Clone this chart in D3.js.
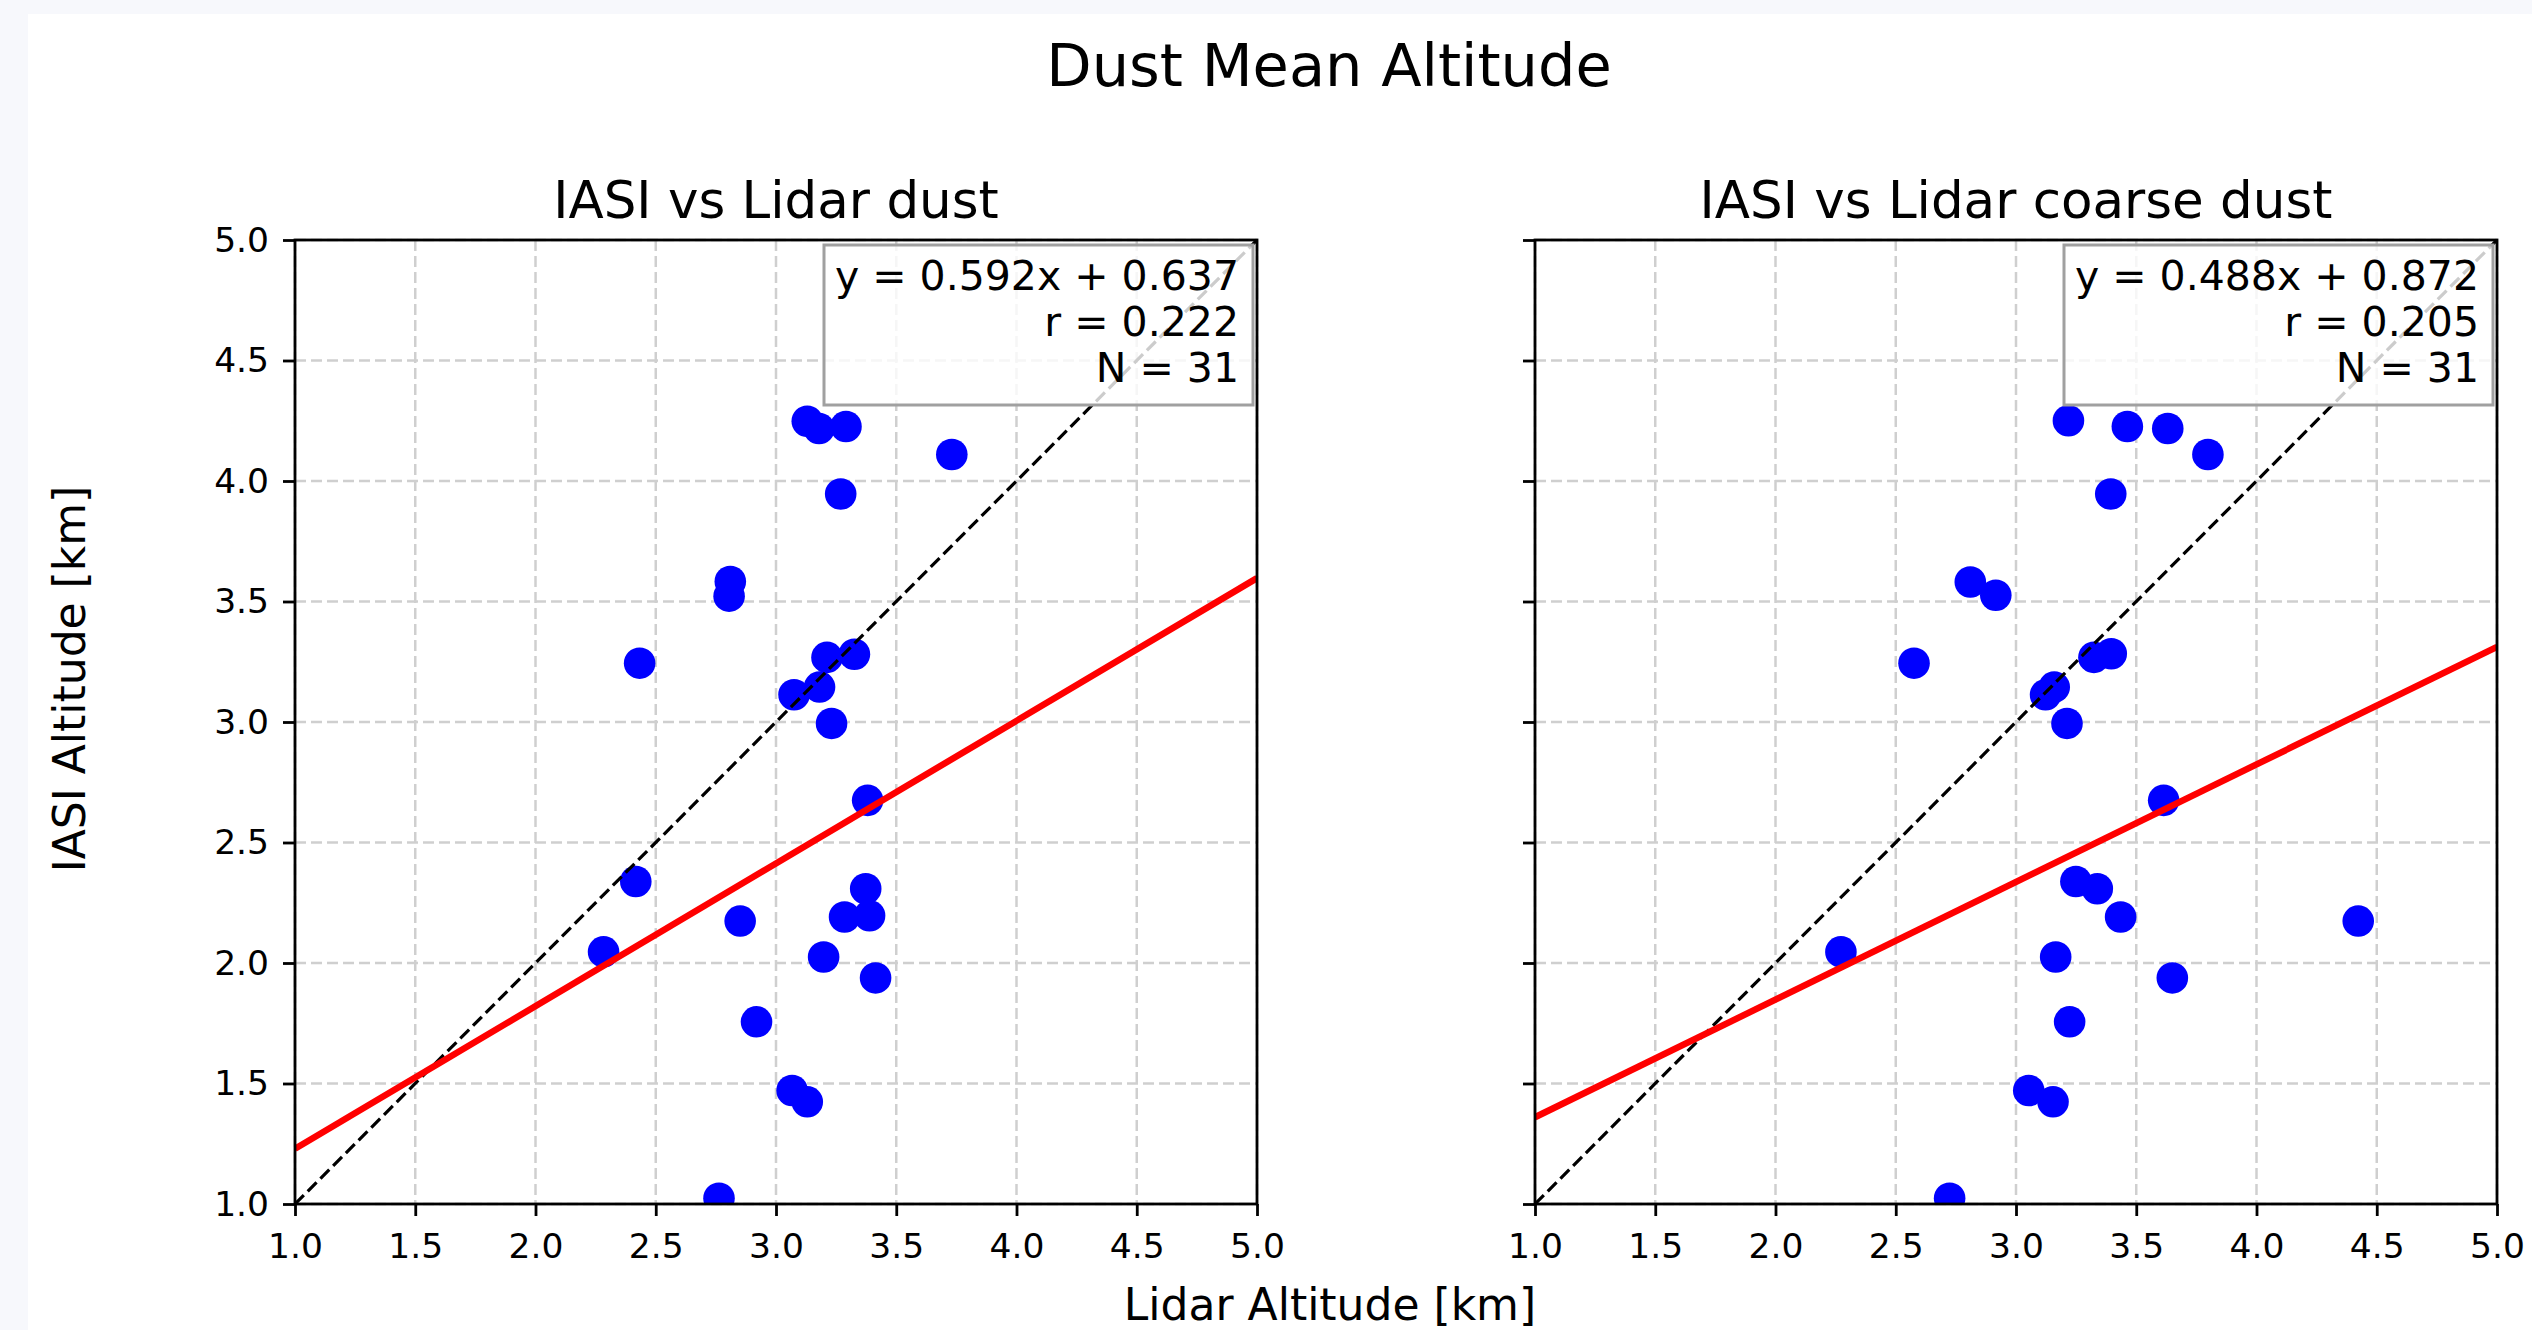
<!DOCTYPE html>
<html>
<head>
<meta charset="utf-8">
<script src="https://cdn.jsdelivr.net/npm/d3@7"></script>
<style>
  body { margin: 0; background: #f7f8fc; }
  text { font-family: "DejaVu Sans", sans-serif; }
</style>
</head>
<body>
<div id="chart"></div>
<script>
// IASI altitude (same for both panels)
const iasiDust = [4.248, 4.218, 4.226, 4.110, 3.946, 3.583, 3.522, 3.244, 3.268, 3.281, 3.113, 3.145, 2.994,
                  2.675, 2.338, 2.308, 2.174, 2.191, 2.196, 2.046, 2.025, 1.938, 1.756, 1.471, 1.424, 1.024];
const lidarDust = [3.130, 3.179, 3.291, 3.731, 3.269, 2.810, 2.805, 2.433, 3.212, 3.326, 3.075, 3.181, 3.231,
                   3.381, 2.417, 3.373, 2.851, 3.285, 3.389, 2.283, 3.198, 3.414, 2.919, 3.067, 3.130, 2.763];

const iasiCoarse = [4.250, 4.226, 4.218, 4.110, 3.946, 3.581, 3.526, 3.244, 3.268, 3.283, 3.113, 3.145, 2.994,
                    2.675, 2.338, 2.308, 2.191, 2.174, 2.046, 2.025, 1.938, 1.756, 1.471, 1.424, 1.024];
const lidarCoarse = [3.218, 3.463, 3.631, 3.798, 3.394, 2.810, 2.916, 2.576, 3.324, 3.396, 3.123, 3.159, 3.212,
                     3.614, 3.249, 3.338, 3.435, 4.423, 2.272, 3.165, 3.650, 3.223, 3.053, 3.154, 2.724];

const panelTitles = ["IASI vs Lidar dust", "IASI vs Lidar coarse dust"];
const fitSlope = [0.592, 0.488];
const fitIntercept = [0.637, 0.872];
const fitR = [0.222, 0.205];
const fitN = [31, 31];
const tickValues = [1.0, 1.5, 2.0, 2.5, 3.0, 3.5, 4.0, 4.5, 5.0];

const W = 2532, H = 1330;
const panelLeft = [295, 1535];
const panelW = 962, panelTop = 240, panelH = 964;

const svg = d3.select("#chart").append("svg")
    .attr("width", W)
    .attr("height", H);

// figure background
svg.append("rect")
    .attr("x", 28).attr("y", 14)
    .attr("width", W - 28).attr("height", H - 14)
    .attr("fill", "white");

svg.append("text")
    .attr("x", 1329).attr("y", 86)
    .attr("text-anchor", "middle")
    .attr("font-size", 59)
    .text("Dust Mean Altitude");

svg.append("text")
    .attr("x", 1330).attr("y", 1320)
    .attr("text-anchor", "middle")
    .attr("font-size", 44)
    .text("Lidar Altitude [km]");

svg.append("text")
    .attr("transform", "translate(85,679) rotate(-90)")
    .attr("text-anchor", "middle")
    .attr("font-size", 44)
    .text("IASI Altitude [km]");

const panels = [
    {xs: lidarDust, ys: iasiDust},
    {xs: lidarCoarse, ys: iasiCoarse}
];

panels.forEach((p, i) => drawPanel(p.xs, p.ys, i));

function drawPanel(xs, ys, i) {
    const g = svg.append("g")
        .attr("transform", "translate(" + panelLeft[i] + "," + panelTop + ")");

    const x = d3.scaleLinear().domain([1, 5]).range([0, panelW]);
    const y = d3.scaleLinear().domain([1, 5]).range([panelH, 0]);

    g.append("clipPath").attr("id", "clip" + i)
        .append("rect").attr("width", panelW).attr("height", panelH);

    // grid
    const grid = g.append("g")
        .attr("stroke", "#cfcfcf")
        .attr("stroke-width", 2.5)
        .attr("stroke-dasharray", "11,5");
    grid.selectAll(".gx").data(tickValues).join("line")
        .attr("x1", d => x(d)).attr("x2", d => x(d))
        .attr("y1", 0).attr("y2", panelH);
    grid.selectAll(".gy").data(tickValues).join("line")
        .attr("y1", d => y(d)).attr("y2", d => y(d))
        .attr("x1", 0).attr("x2", panelW);

    const plot = g.append("g").attr("clip-path", "url(#clip" + i + ")");

    // points
    plot.selectAll("circle")
        .data(xs.map((v, k) => [v, ys[k]]))
        .join("circle")
        .attr("cx", d => x(d[0]))
        .attr("cy", d => y(d[1]))
        .attr("r", 15.8)
        .attr("fill", "#0000ff");

    // 1:1 line
    plot.append("line")
        .attr("x1", x(1)).attr("y1", y(1))
        .attr("x2", x(5)).attr("y2", y(5))
        .attr("stroke", "black")
        .attr("stroke-width", 3.2)
        .attr("stroke-dasharray", "12.5,5.5");

    // fit line
    const fit = d => fitSlope[i] * d + fitIntercept[i];
    plot.append("path")
        .datum([1, 5])
        .attr("fill", "none")
        .attr("stroke", "#ff0000")
        .attr("stroke-width", 6.5)
        .attr("d", d3.line().x(d => x(d)).y(d => y(fit(d))));

    // axes
    const xAxis = g.append("g")
        .attr("transform", "translate(0," + panelH + ")")
        .call(d3.axisBottom(x).tickValues(tickValues).tickFormat(d3.format(".1f"))
            .tickSize(12).tickPadding(18));
    const yAxis = g.append("g")
        .call(d3.axisLeft(y).tickValues(tickValues)
            .tickFormat(i === 0 ? d3.format(".1f") : "")
            .tickSize(12).tickPadding(14));
    [xAxis, yAxis].forEach(a => {
        a.select(".domain").remove();
        a.selectAll("line").attr("stroke", "black").attr("stroke-width", 2.8);
        a.selectAll("text").attr("font-size", 34.5).attr("fill", "black")
            .attr("font-family", "DejaVu Sans");
    });

    g.append("rect")
        .attr("width", panelW).attr("height", panelH)
        .attr("fill", "none")
        .attr("stroke", "black")
        .attr("stroke-width", 2.8);

    // stats box
    g.append("rect")
        .attr("x", panelW - 433).attr("y", 5)
        .attr("width", 429).attr("height", 160)
        .attr("fill", "white").attr("fill-opacity", 0.8)
        .attr("stroke", "#a0a0a0").attr("stroke-width", 3);

    const lines = [
        "y = " + fitSlope[i].toFixed(3) + "x + " + fitIntercept[i].toFixed(3),
        "r = " + fitR[i].toFixed(3),
        "N = " + fitN[i]
    ];
    g.selectAll(".stat").data(lines).join("text")
        .attr("class", "stat")
        .attr("x", panelW - 18)
        .attr("y", (d, k) => 50 + k * 46)
        .attr("text-anchor", "end")
        .attr("font-size", 41)
        .text(d => d);

    g.append("text")
        .attr("x", panelW / 2).attr("y", -22)
        .attr("text-anchor", "middle")
        .attr("font-size", 51.5)
        .text(panelTitles[i]);
}
</script>
</body>
</html>
